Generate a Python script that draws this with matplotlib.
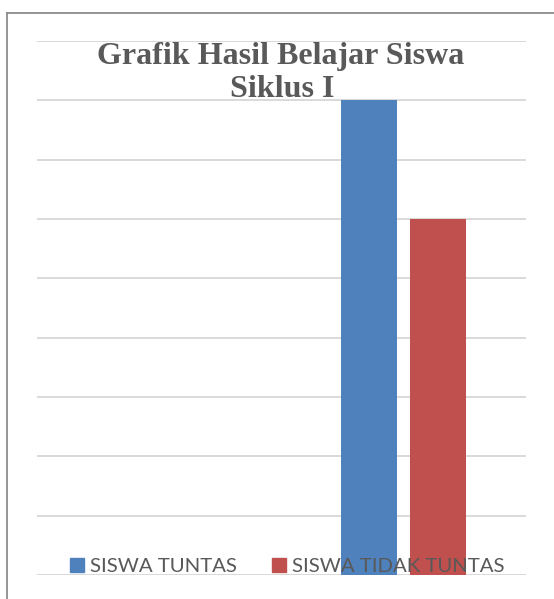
import numpy as np
import matplotlib
matplotlib.use('Agg')
import matplotlib.pyplot as plt
from matplotlib.patches import Patch
from matplotlib.lines import Line2D

# data
kategori = ['', 'Siklus I']
siswa_tuntas = [0, 8]
siswa_tidak_tuntas = [0, 6]
seri = ['SISWA TUNTAS', 'SISWA TIDAK TUNTAS']
warna = ['#4f81bd', '#c0504d']
judul = ['Grafik Hasil Belajar Siswa', 'Siklus I']

W, H = 554, 599
fig = plt.figure(figsize=(W / 100, H / 100), dpi=100)
ax = fig.add_axes([37 / W, (H - 575) / H, (526 - 37) / W, (575 - 41) / H])

x = np.arange(len(kategori))
w = 0.229
ax.bar(x - 0.142, siswa_tuntas, w, color=warna[0], zorder=3)
ax.bar(x + 0.142, siswa_tidak_tuntas, w, color=warna[1], zorder=3)

ax.set_xlim(-0.5, 1.5)
ax.set_ylim(0, 9)
ax.set_yticks(np.arange(0, 10))
ax.yaxis.grid(True, color='#d9d9d9', lw=1.4, zorder=0)
ax.tick_params(left=False, bottom=False, labelleft=False, labelbottom=False)
for s in ax.spines.values():
    s.set_visible(False)
ax.set_axisbelow(True)

handles = [Patch(color=c) for c in warna]
leg = ax.legend(handles, seri, ncol=2, loc='lower left', bbox_to_anchor=(31 / 489, -2 / 534),
                frameon=False, prop={'family': 'Lato', 'size': 14.7},
                handlelength=0.66, handleheight=0.66, handletextpad=0.3,
                columnspacing=1.76, borderpad=0.1, borderaxespad=0.0)
for t in leg.get_texts():
    t.set_color('#595959')
leg.set_zorder(5)

# title
fig.text(281 / W, 1 - 64 / H, judul[0], ha='center', va='baseline',
         family='Liberation Serif', weight='bold', size=23, color='#595959')
fig.text(282 / W, 1 - 97 / H, judul[1], ha='center', va='baseline',
         family='Liberation Serif', weight='bold', size=23, color='#595959')

# chart border (only left and top visible)
fig.add_artist(Line2D([7 / W, 7 / W], [0, 1 - 12.5 / H], color='#8c8c8c', lw=1.3,
                      transform=fig.transFigure))
fig.add_artist(Line2D([7 / W, 1], [1 - 12.5 / H, 1 - 12.5 / H], color='#8c8c8c', lw=1.3,
                      transform=fig.transFigure))

fig.savefig('out.png', dpi=100)
